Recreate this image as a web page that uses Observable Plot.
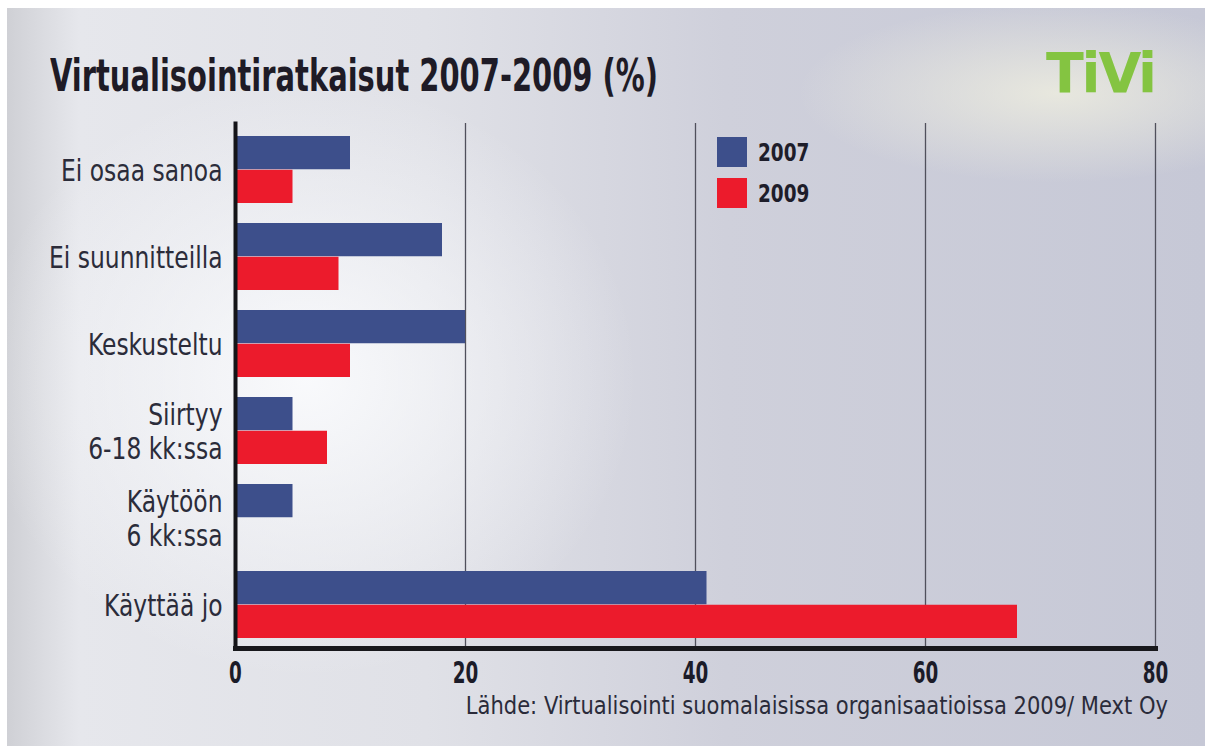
<!DOCTYPE html>
<html>
<head>
<meta charset="utf-8">
<script src="https://cdn.jsdelivr.net/npm/d3@7"></script>
<script src="https://cdn.jsdelivr.net/npm/@observablehq/plot@0.6"></script>
<style>
  html, body { margin: 0; padding: 0; background: #fff; }
  #page { position: relative; width: 1212px; height: 754px; background: #fff; overflow: hidden; }
  #panel {
    position: absolute; left: 7px; top: 8px; width: 1198px; height: 738px;
    background:
      radial-gradient(ellipse 330px 300px at 300px 370px, rgba(250,251,253,0.95), rgba(250,251,253,0) 100%),
      radial-gradient(ellipse 260px 90px at 1050px 85px, rgba(245,244,225,0.7), rgba(245,244,225,0) 100%),
      linear-gradient(90deg, #cfd0d5 0%, #e6e7ec 6%, #e0e1e7 35%, #cfd0db 60%, #c6c8d6 100%);
  }
  #title {
    position: absolute; left: 50px; top: 49px;
    font-family: "DejaVu Sans Condensed", sans-serif;
    font-weight: bold; font-size: 45px; color: #1e1b26; white-space: nowrap;
    transform: scaleX(0.715); transform-origin: 0 0;
  }
  #logo {
    position: absolute; left: 1046px; top: 40px;
    font-family: "DejaVu Sans Condensed", sans-serif; font-weight: bold;
    font-size: 56px; color: #84c441; letter-spacing: -2px;
    transform: scaleX(1.1); transform-origin: 0 0;
  }
  #chart { position: absolute; left: 0; top: 0; }
  #legend { position: absolute; left: 717px; top: 137px;
    font-family: "DejaVu Sans Condensed", sans-serif;
    font-weight: bold; font-size: 25px; color: #1e1d2a; }
  .item { display: flex; align-items: center; height: 30px; margin-bottom: 11px; }
  .sw { width: 30px; height: 30px; margin-right: 11px; flex: none; }
  .lbl { display: inline-block; transform: scaleX(0.82); transform-origin: 0 50%; }
  #caption {
    position: absolute; left: 1168px; top: 692px;
    font-family: "DejaVu Sans Condensed", sans-serif;
    font-size: 24px; color: #2a2b3a; white-space: nowrap;
    transform: translateX(-100%) scaleX(0.975); transform-origin: 100% 0;
  }
</style>
</head>
<body>
<div id="page">
  <div id="panel"></div>
  <div id="title"></div>
  <div id="logo">TiVi</div>
  <div id="chart"></div>
  <div id="legend"></div>
  <div id="caption"></div>
</div>
<script>
const titleText = "Virtualisointiratkaisut 2007-2009 (%)";
const captionText = "Lähde: Virtualisointi suomalaisissa organisaatioissa 2009/ Mext Oy";
const categories = ["Ei osaa sanoa", "Ei suunnitteilla", "Keskusteltu", "Siirtyy\n6-18 kk:ssa", "Käytöön\n6 kk:ssa", "Käyttää jo"];
const years = ["2007", "2009"];
const values2007 = [10, 18, 20, 5, 5, 41];
const values2009 = [5, 9, 10, 8, 0, 68];
const xTicks = [0, 20, 40, 60, 80];
const gridTicks = [20, 40, 60, 80];
const colors = ["#3d4f8b", "#ec1b2c"];

document.getElementById("title").textContent = titleText;
document.getElementById("caption").textContent = captionText;

const legend = document.getElementById("legend");
years.forEach((y, i) => {
  const it = document.createElement("div");
  it.className = "item";
  const sw = document.createElement("div");
  sw.className = "sw";
  sw.style.background = colors[i];
  const t = document.createElement("span");
  t.className = "lbl";
  t.textContent = y;
  it.appendChild(sw); it.appendChild(t);
  legend.appendChild(it);
});

const rows = categories.flatMap((c, i) => [
  {category: c, year: years[0], value: values2007[i]},
  {category: c, year: years[1], value: values2009[i]}
]);

const half = 33.75;
const font = "'DejaVu Sans Condensed', sans-serif";

const chart = Plot.plot({
  width: 1212,
  height: 700,
  marginLeft: 235,
  marginRight: 57,
  marginTop: 123,
  marginBottom: 52,
  style: {background: "transparent", fontFamily: font, color: "#2b2c3a", overflow: "visible"},
  x: {domain: [0, 80]},
  y: {domain: categories, range: [135, 640], paddingInner: 0.228, paddingOuter: 0},
  marks: [
    Plot.ruleX(gridTicks, {stroke: "#50505c", strokeWidth: 1.3}),
    Plot.barX(rows.filter(d => d.year === years[0]), {x: "value", y: "category", fill: colors[0], insetBottom: half}),
    Plot.barX(rows.filter(d => d.year === years[1]), {x: "value", y: "category", fill: colors[1], insetTop: half}),
    Plot.axisY({tickSize: 0, tickPadding: 13, fontSize: 31, label: null, lineHeight: 1.12}),
    Plot.axisX({ticks: xTicks, tickSize: 0, tickPadding: 13, fontSize: 30, fontWeight: "bold", label: null, fill: "#1b1b28"}),
    Plot.frame({anchor: "left", stroke: "#141418", strokeWidth: 4}),
    Plot.frame({anchor: "bottom", stroke: "#18181c", strokeWidth: 5})
  ]
});
document.getElementById("chart").appendChild(chart);

function squeeze(selection, s) {
  selection.each(function() {
    const t = this.getAttribute("transform") || "";
    const x = +(this.getAttribute("x") || 0);
    this.setAttribute("transform", `${t} translate(${x},0) scale(${s},1) translate(${-x},0)`);
  });
}
squeeze(d3.select(chart).selectAll('g[aria-label="y-axis tick label"] text'), 0.84);
squeeze(d3.select(chart).selectAll('g[aria-label="x-axis tick label"] text'), 0.68);
</script>
</body>
</html>
